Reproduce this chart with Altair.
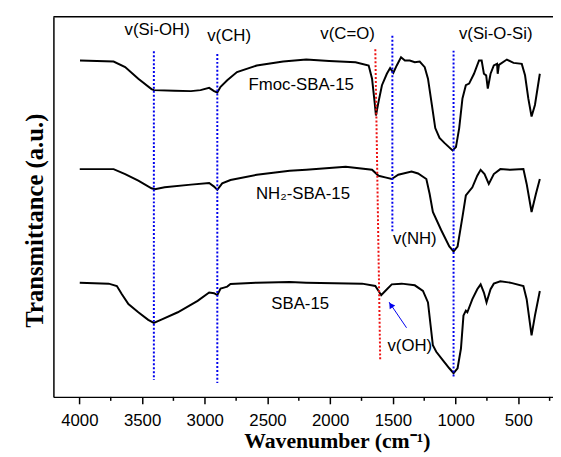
import altair as alt
import pandas as pd

# ---- spectra (wavenumber on the printed axis, offset transmittance in a.u.) ----
fmoc_wn = [3995, 3727, 3635, 3530, 3425, 3406, 3241, 3110, 3034, 2965, 2926, 2900, 2874, 2821, 2743,
           2585, 2375, 2191, 2008, 1798, 1693, 1666, 1646, 1635, 1614, 1587, 1548, 1522, 1496, 1469,
           1435, 1404, 1365, 1325, 1286, 1246, 1220, 1189, 1162, 1128, 1089, 1024, 997, 971, 945,
           918, 892, 853, 813, 792, 774, 756, 743, 721, 695, 669, 664, 654, 591, 538, 472, 446, 420,
           394, 367, 328]
fmoc_t = [340.7, 339.7, 334, 322.3, 311.7, 310.7, 310, 309.7, 310.7, 313, 309.7, 308.3, 314, 320.7, 329,
          335.7, 339.7, 341.7, 340.3, 339, 335.7, 322.3, 299, 285, 299, 315.7, 327.3, 333, 328.3, 335.7,
          344, 340.7, 340.7, 339, 339.7, 334, 322.3, 295.7, 272.3, 262.3, 257.3, 249.7, 253, 272.3, 302.3,
          315.7, 317.3, 327.3, 340.7, 340.7, 327.3, 325.7, 312.3, 327.3, 335.7, 337.3, 327.3, 336.3, 341.7,
          338.3, 337.3, 325.7, 302.3, 284, 295.7, 327.3]

nh_wn = [3997, 3727, 3635, 3530, 3425, 3398, 3320, 3110, 2965, 2926, 2900, 2861, 2795, 2585, 2323,
         2191, 1876, 1666, 1614, 1561, 1509, 1457, 1351, 1299, 1233, 1207, 1181, 1115, 1050, 1016,
         984, 945, 918, 866, 827, 800, 769, 735, 695, 643, 564, 459, 433, 394, 359, 328]
nh_t = [230.7, 230.7, 225.7, 219, 211.3, 210.3, 212.3, 215, 216.7, 213, 209.7, 216.3, 219.7, 225, 229,
        230, 233, 230, 224, 222.3, 220.7, 225, 228.3, 226.3, 220.7, 205.7, 187.3, 169, 152.3, 147.3,
        152.3, 182.3, 204, 212.3, 224, 230, 225.7, 215.7, 225.7, 230.7, 230, 230.7, 215.7, 187.3, 205.7,
        220.7]

sba_wn = [3997, 3766, 3701, 3661, 3609, 3530, 3451, 3406, 3346, 3215, 3057, 2965, 2926, 2900, 2874,
          2847, 2821, 2795, 2585, 2323, 2191, 1745, 1640, 1614, 1593, 1561, 1509, 1430, 1325, 1260,
          1220, 1199, 1181, 1154, 1102, 1050, 1016, 984, 957, 937, 918, 906, 866, 827, 800, 774, 753,
          721, 695, 643, 564, 459, 433, 394, 367, 328]
sba_t = [115.7, 114.7, 112.3, 104, 94, 85.7, 78, 75, 78.3, 85.7, 97.3, 105.7, 105, 103, 109.7,
         110.7, 111.7, 114.3, 115.7, 116.3, 115.7, 114.7, 112.3, 107.3, 103, 107.3, 114, 114.7, 113, 107.3,
         95.7, 72.3, 52.3, 45.7, 37.3, 29, 24, 29, 49, 82.3, 87.3, 85.7, 99, 109, 114, 105.7, 95.7,
         109, 114.7, 117, 115.7, 112.3, 99, 62.3, 82.3, 107.3]

# ---- band markers ----
band_names = ["Si-OH", "CH", "NH", "Si-O-Si", "C=O"]
band_x = [3406, 2900, 1504, 1016, 1640]
band_x2 = [3406, 2900, 1504, 1016, 1601]
band_top = [350, 347.3, 365.7, 350.7, 352]
band_bot = [17.3, 14, 167, 19, 37]
band_col = ["#0000ee", "#0000ee", "#0000ee", "#0000ee", "#ee1111"]

# ---- annotations ----
lab_text = ["v(Si-OH)", "v(CH)", "v(C=O)", "v(Si-O-Si)", "Fmoc-SBA-15", "NH\u2082-SBA-15",
            "SBA-15", "v(OH)", "v(NH)"]
lab_x = [3380, 2806, 1861, 680, 2231, 2217, 2239, 1365, 1325]
lab_y = [371.7, 365, 367.3, 367.3, 316, 205, 94, 51.3, 159.7]

tick_vals = [4000, 3500, 3000, 2500, 2000, 1500, 1000, 500]
minor_vals = [3750, 3250, 2750, 2250, 1750, 1250, 750, 250]

W, H = 506, 385
xs = alt.Scale(domain=[4207, 223], nice=False, zero=False)
ys = alt.Scale(domain=[0, 385], nice=False, zero=False)

xaxis = alt.Axis(
    values=tick_vals, format="d", grid=False, tickSize=7, tickWidth=1.5, tickColor="black",
    domainColor="black", domainWidth=1.5, labelColor="black", labelFont="Liberation Sans",
    labelFontSize=17, labelPadding=9,
    title="Wavenumber (cm\u207b\u00b9)", titleFont="Liberation Serif", titleFontWeight="bold",
    titleFontSize=22, titleColor="black", titleX=287, titleY=44, titleBaseline="middle",
    titleAlign="center")
yaxis = alt.Axis(
    ticks=False, labels=False, grid=False, domainColor="black", domainWidth=1.5,
    title="Transmittance (a.u.)", titleFont="Liberation Serif", titleFontWeight="bold",
    titleFontSize=25, titleColor="black", titleAngle=270, titleX=-19, titleY=206,
    titleBaseline="middle", titleAlign="center")


def X():
    return alt.X("wn:Q", scale=xs, axis=xaxis)


def Y():
    return alt.Y("t:Q", scale=ys, axis=yaxis)


rows = []
for name, wn, tt in [("Fmoc", fmoc_wn, fmoc_t), ("NH2", nh_wn, nh_t), ("SBA", sba_wn, sba_t)]:
    for i, (a, b) in enumerate(zip(wn, tt)):
        rows.append({"series": name, "wn": a, "t": b, "i": i})
spec = pd.DataFrame(rows)

lines = alt.Chart(spec).mark_line(color="black", strokeWidth=2).encode(
    x=X(), y=Y(), detail="series:N", order="i:Q")

bands = pd.DataFrame({"name": band_names, "wn": band_x, "wn2": band_x2, "t": band_top,
                      "t2": band_bot, "col": band_col})
band_rules = alt.Chart(bands).mark_rule(strokeWidth=2, strokeDash=[2, 2]).encode(
    x=X(), x2="wn2:Q", y=Y(), y2="t2:Q", color=alt.Color("col:N", scale=None))

labs = pd.DataFrame({"text": lab_text, "wn": lab_x, "t": lab_y})
texts = alt.Chart(labs).mark_text(font="Liberation Sans", fontSize=17, color="black",
                                  baseline="middle", align="center").encode(
    x=X(), y=Y(), text="text:N")

arrow_df = pd.DataFrame({"wn": [1391], "wn2": [1530], "t": [70], "t2": [96]})
arrow = alt.Chart(arrow_df).mark_rule(color="#0000ee", strokeWidth=1).encode(
    x=X(), x2="wn2:Q", y=Y(), y2="t2:Q")
head = alt.Chart(pd.DataFrame({"wn": [1516], "t": [93]})).mark_point(
    shape="triangle-up", filled=True, size=45, angle=326, color="#0000ee", opacity=1).encode(
    x=X(), y=Y())

minor = alt.Chart(pd.DataFrame({"wn": minor_vals})).mark_rule(color="black", strokeWidth=1.5).encode(
    x=X(), y=alt.value(H), y2=alt.value(H + 4))

top_line = alt.Chart(pd.DataFrame({"a": [0]})).mark_rule(color="black", strokeWidth=1.5).encode(
    x=alt.value(0), x2=alt.value(W), y=alt.value(0))

chart = alt.layer(lines, band_rules, texts, arrow, head, minor, top_line).properties(
    width=W, height=H,
    autosize=alt.AutoSizeParams(type="none"),
    padding={"left": 46, "top": 6, "right": 0, "bottom": 58},
).configure_view(stroke=None)

chart.save("out.html", embed_options={"renderer": "svg", "actions": False})
